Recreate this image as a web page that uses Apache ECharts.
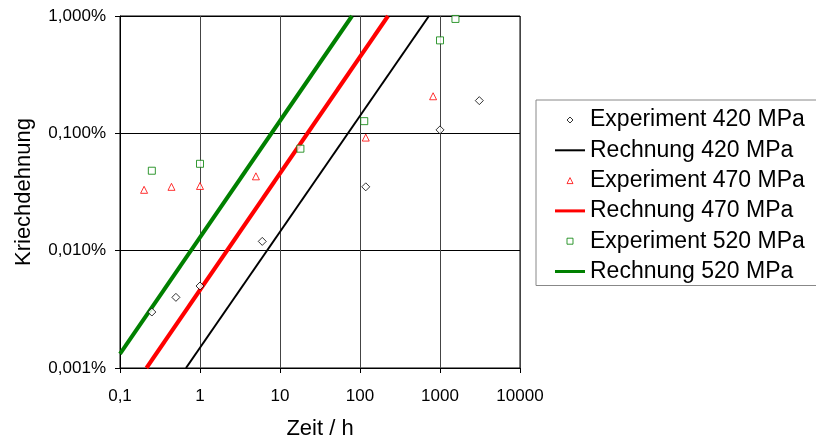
<!DOCTYPE html>
<html lang="de">
  <head>
    <meta charset="UTF-8" />
    <title>Kriechdehnung</title>
    <script src="https://cdn.jsdelivr.net/npm/echarts@6/dist/echarts.min.js"></script>
    <style>
      html, body { margin: 0; padding: 0; background: #fff; }
      #chart { width: 816px; height: 445px; }
    </style>
  </head>
  <body>
    <div id="chart"></div>
    <script type="text/javascript">
      // Messwerte (Zeit in h, Dehnung in %)
      const exp420X = [0.25, 0.5, 1, 6, 118, 1000, 3100];
      const exp420Y = [0.003, 0.004, 0.005, 0.012, 0.035, 0.107, 0.19];
      const exp470X = [0.2, 0.44, 1, 5, 118, 820];
      const exp470Y = [0.033, 0.035, 0.0356, 0.043, 0.092, 0.207];
      const exp520X = [0.25, 1, 18, 113, 1000, 1560];
      const exp520Y = [0.048, 0.055, 0.074, 0.127, 0.62, 0.944];
      // Rechnung (Geraden im log-log)
      const calc420X = [0.668, 727];
      const calc420Y = [0.001, 1];
      const calc470X = [0.214, 224];
      const calc470Y = [0.001, 1];
      const calc520X = [0.1, 79.4];
      const calc520Y = [0.00132, 1];

      const font = "'Liberation Sans', Arial, sans-serif";
      const pairs = (xs, ys) => xs.map((x, i) => [x, ys[i]]);

      const dom = document.getElementById("chart");
      const myChart = echarts.init(dom, null, { renderer: "canvas" });

      // Legenden-Icons: kleine Marker und flache Linien (als Pfade, damit nichts gestreckt wird)
      const markerPaths = {
        diamond: "path://M3,0L6,3L3,6L0,3Z",
        triangle: "path://M3,0L6,6L0,6Z",
        rect: "path://M0,0H6V6H0Z",
      };
      const markerIcon = (name, shape, color) => ({
        name: name,
        icon: markerPaths[shape],
        itemStyle: { color: "#fff", borderColor: color, borderWidth: 1 },
      });
      const lineIcon = (name, h, color) => ({
        name: name,
        icon: "path://M0,0H30V" + h + "H0Z",
        itemStyle: { color: color, borderWidth: 0 },
      });

      const option = {
        animation: false,
        textStyle: { fontFamily: font },
        grid: {
          left: 120,
          right: 296,
          top: 16,
          bottom: 75,
          show: true,
          borderColor: "#000",
          borderWidth: 1,
        },
        legend: {
          orient: "vertical",
          left: 536,
          top: 100,
          padding: [8, 20, 2, 19],
          itemGap: 6.3,
          itemWidth: 30,
          itemHeight: 6,
          symbolKeepAspect: true,
          borderColor: "#888",
          borderWidth: 1,
          selectedMode: false,
          textStyle: { fontSize: 23, color: "#000", lineHeight: 24, fontFamily: font },
          data: [
            markerIcon("Experiment 420 MPa", "diamond", "#000"),
            lineIcon("Rechnung 420 MPa", 2, "#000"),
            markerIcon("Experiment 470 MPa", "triangle", "#ff0000"),
            lineIcon("Rechnung 470 MPa", 3, "#ff0000"),
            markerIcon("Experiment 520 MPa", "rect", "#008000"),
            lineIcon("Rechnung 520 MPa", 3, "#008000"),
          ],
        },
        xAxis: {
          type: "log",
          logBase: 10,
          min: 0.1,
          max: 10000,
          name: "Zeit / h",
          nameLocation: "middle",
          nameGap: 50,
          nameTextStyle: { fontSize: 22, color: "#000", fontFamily: font },
          axisLine: { lineStyle: { color: "#000", width: 1 } },
          axisTick: { show: true, length: 5, lineStyle: { color: "#000" } },
          minorTick: { show: false },
          axisLabel: {
            fontSize: 17,
            color: "#000",
            margin: 20,
            formatter: (v) => String(+(+v).toPrecision(6)).replace(".", ","),
          },
          splitLine: { show: true, lineStyle: { color: "#444", width: 1 } },
        },
        yAxis: {
          type: "log",
          logBase: 10,
          min: 0.001,
          max: 1,
          name: "Kriechdehnung",
          nameLocation: "middle",
          nameRotate: 90,
          nameGap: 85,
          nameTextStyle: { fontSize: 22, color: "#000", fontFamily: font },
          axisLine: { lineStyle: { color: "#000", width: 1 } },
          axisTick: { show: true, length: 5, lineStyle: { color: "#000" } },
          axisLabel: {
            fontSize: 17,
            color: "#000",
            margin: 14,
            formatter: (v) => (+v).toFixed(3).replace(".", ",") + "%",
          },
          splitLine: { show: true, lineStyle: { color: "#000", width: 1 } },
        },
        series: [
          {
            name: "Experiment 420 MPa",
            type: "scatter",
            symbol: "diamond",
            symbolSize: 8,
            itemStyle: { color: "#fff", borderColor: "#000", borderWidth: 1 },
            z: 5,
            data: pairs(exp420X, exp420Y),
          },
          {
            name: "Rechnung 420 MPa",
            type: "line",
            showSymbol: false,
            symbol: "none",
            color: "#000",
            lineStyle: { color: "#000", width: 2 },
            data: pairs(calc420X, calc420Y),
          },
          {
            name: "Experiment 470 MPa",
            type: "scatter",
            symbol: "triangle",
            symbolSize: 7,
            itemStyle: { color: "#fff", borderColor: "#ff0000", borderWidth: 1 },
            z: 5,
            data: pairs(exp470X, exp470Y),
          },
          {
            name: "Rechnung 470 MPa",
            type: "line",
            showSymbol: false,
            symbol: "none",
            color: "#ff0000",
            lineStyle: { color: "#ff0000", width: 4 },
            data: pairs(calc470X, calc470Y),
          },
          {
            name: "Experiment 520 MPa",
            type: "scatter",
            symbol: "rect",
            symbolSize: 7,
            itemStyle: { color: "#fff", borderColor: "#008000", borderWidth: 1 },
            z: 5,
            data: pairs(exp520X, exp520Y),
          },
          {
            name: "Rechnung 520 MPa",
            type: "line",
            showSymbol: false,
            symbol: "none",
            color: "#008000",
            lineStyle: { color: "#008000", width: 4 },
            data: pairs(calc520X, calc520Y),
          },
        ],
      };

      if (option && typeof option === "object") {
        myChart.setOption(option);
      }
    </script>
  </body>
</html>
